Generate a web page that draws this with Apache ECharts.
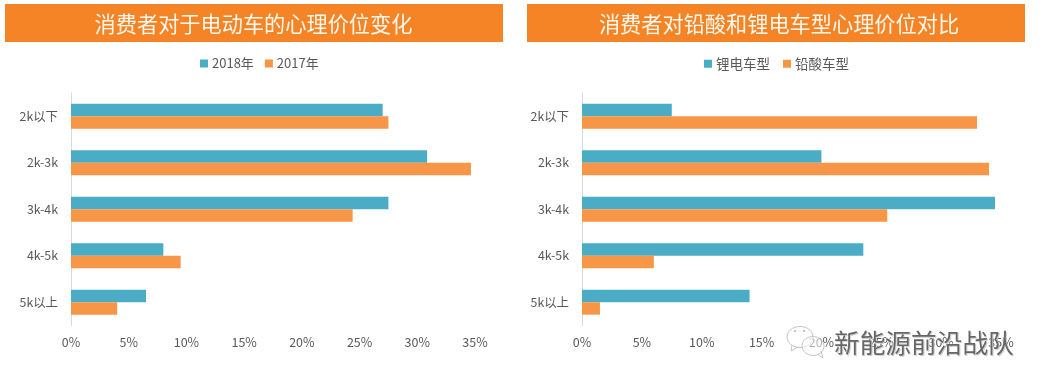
<!DOCTYPE html>
<html><head><meta charset="utf-8">
<style>html,body{margin:0;padding:0;background:#fff}#c{width:1050px;height:389px}</style>
<script src="https://cdn.jsdelivr.net/npm/echarts@6/dist/echarts.min.js"></script></head>
<body><div id="c"></div>
<script>
const categories = ['2k以下','2k-3k','3k-4k','4k-5k','5k以上'];
const values2018 = [27.0,30.85,27.5,8.0,6.5];
const values2017 = [27.5,34.65,24.4,9.5,4.0];
const valuesLithium = [7.5,20.0,34.5,23.5,14.0];
const valuesLead = [33.0,34.0,25.5,6.0,1.5];
const titleLeft = '消费者对于电动车的心理价位变化';
const titleRight = '消费者对铅酸和锂电车型心理价位对比';
const watermark = '新能源前沿战队';
const FONT = '"Noto Sans CJK SC","Liberation Sans",sans-serif';
const TEAL = '#4BACC6', ORANGE = '#F79646', BANNER = '#F58426', TXT = '#595959';
const chart = echarts.init(document.getElementById('c'));
const xAxis = i => ({gridIndex:i,type:'value',min:0,max:35,interval:5,
  axisLine:{show:false},axisTick:{show:false},splitLine:{show:false},
  axisLabel:{formatter:'{value}%',color:TXT,fontSize:12.5,fontFamily:FONT,margin:10,hideOverlap:false,showMaxLabel:true}});
const yAxis = i => ({gridIndex:i,type:'category',inverse:true,data:categories,
  axisLine:{lineStyle:{color:'#D9D9D9',width:1}},axisTick:{show:false},
  axisLabel:{color:TXT,fontSize:12.4,fontFamily:FONT,margin:13}});
const bar = (name,data,color,i) => ({name,type:'bar',xAxisIndex:i,yAxisIndex:i,data,
  barWidth:12.4,barGap:'0%',itemStyle:{color},animation:false});
const legend = (data,left,size,gap) => ({data,left,top:57,padding:0,itemWidth:8,itemHeight:8,itemGap:gap,icon:'rect',
  textStyle:{color:TXT,fontSize:size,fontFamily:FONT,padding:[0,0,0,-1]}});
const ghost = {fill:'rgba(255,255,255,0.55)',stroke:'#C4C4C4',lineWidth:1};
chart.setOption({
  animation:false,
  backgroundColor:'#fff',
  legend:[legend(['2018年','2017年'],200,13,11),legend(['锂电车型','铅酸车型'],704,13.5,13)],
  grid:[{left:71,top:93,width:404,height:232.5},{left:582,top:93,width:419,height:232.5}],
  xAxis:[xAxis(0),xAxis(1)],
  yAxis:[yAxis(0),yAxis(1)],
  series:[bar('2018年',values2018,TEAL,0),bar('2017年',values2017,ORANGE,0),
          bar('锂电车型',valuesLithium,TEAL,1),bar('铅酸车型',valuesLead,ORANGE,1)],
  graphic:[
    {type:'rect',z:-1,silent:true,shape:{x:5,y:4,width:498,height:38},style:{fill:BANNER}},
    {type:'rect',z:-1,silent:true,shape:{x:527,y:4,width:498,height:38},style:{fill:BANNER}},
    {type:'text',z:10,x:253.5,y:23.5,style:{text:titleLeft,fill:'#FFF8EE',font:'21.2px '+FONT,align:'center',verticalAlign:'middle'}},
    {type:'text',z:10,x:779,y:23.5,style:{text:titleRight,fill:'#FFF8EE',font:'21.2px '+FONT,align:'center',verticalAlign:'middle'}},
    {type:'ellipse',z:20,silent:true,shape:{cx:800,cy:337,rx:13,ry:10.5},style:ghost},
    {type:'polyline',z:20,silent:true,shape:{points:[[792,345],[791,351],[798,347]]},style:{fill:null,stroke:'#C4C4C4',lineWidth:1}},
    {type:'circle',z:20,silent:true,shape:{cx:795,cy:331,r:1.2},style:{fill:'#C4C4C4'}},
    {type:'circle',z:20,silent:true,shape:{cx:804,cy:331,r:1.2},style:{fill:'#C4C4C4'}},
    {type:'ellipse',z:21,silent:true,shape:{cx:813,cy:346,rx:11,ry:9.5},style:ghost},
    {type:'polyline',z:21,silent:true,shape:{points:[[817,354],[823,358],[821,351]]},style:{fill:null,stroke:'#C4C4C4',lineWidth:1}},
    {type:'text',z:22,x:835,y:344,style:{text:watermark,fill:'#C8C8C8',font:'25.7px '+FONT,align:'left',verticalAlign:'middle'}},
    {type:'text',z:23,x:834,y:343,style:{text:watermark,fill:'#666',font:'25.7px '+FONT,align:'left',verticalAlign:'middle',stroke:'rgba(255,255,255,0.55)',lineWidth:0.8}}
  ]
});
</script></body></html>
